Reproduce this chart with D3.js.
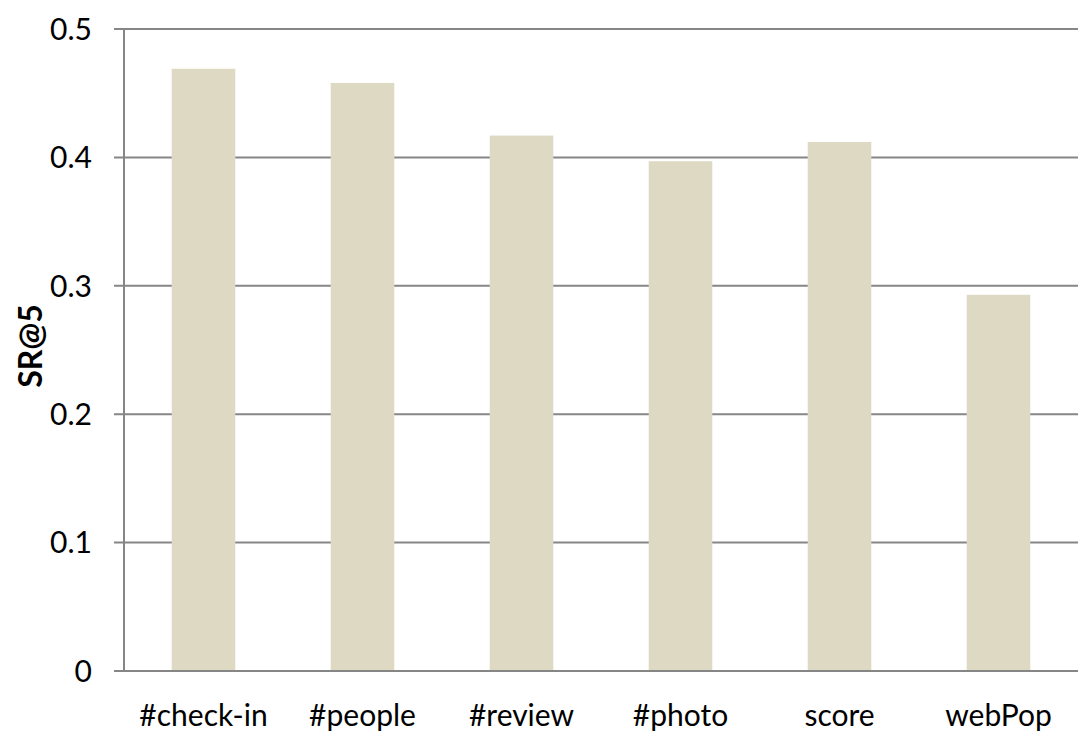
<!DOCTYPE html>
<html>
<head>
<meta charset="utf-8">
<script src="https://cdn.jsdelivr.net/npm/d3@7"></script>
<style>
  html, body { margin: 0; padding: 0; background: #fff; }
  svg { display: block; }
  text { font-family: Lato, "Open Sans", sans-serif; fill: #000; }
</style>
</head>
<body>
<svg id="chart" width="1083" height="744"></svg>
<script>
// SR@5 per ranking feature
const categories = ["#check-in", "#people", "#review", "#photo", "score", "webPop"];
const values = [0.469, 0.458, 0.417, 0.397, 0.412, 0.293];
const yTicks = [0, 0.1, 0.2, 0.3, 0.4, 0.5];
const yTickLabels = ["0", "0.1", "0.2", "0.3", "0.4", "0.5"];
const yTitle = "SR@5";

const svg = d3.select("#chart");
const margin = { left: 124, right: 5, top: 29, bottom: 73 };
const W = 1083, H = 744;

const x = d3.scaleBand()
  .domain(categories)
  .range([margin.left, W - margin.right])
  .paddingInner(0.6)
  .paddingOuter(0.3);

const y = d3.scaleLinear()
  .domain([0, 0.5])
  .range([H - margin.bottom, margin.top]);

const gridColor = "#868686";

// horizontal gridlines with short ticks left of the axis
svg.append("g")
  .selectAll("line")
  .data(yTicks)
  .join("line")
  .attr("x1", margin.left - 10)
  .attr("x2", W - margin.right)
  .attr("y1", d => y(d))
  .attr("y2", d => y(d))
  .attr("stroke", gridColor)
  .attr("stroke-width", 2);

// bars
svg.append("g")
  .selectAll("rect")
  .data(values)
  .join("rect")
  .attr("x", (d, i) => x(categories[i]))
  .attr("width", x.bandwidth())
  .attr("y", d => y(d))
  .attr("height", d => y(0) - y(d))
  .attr("fill", "#DDD9C3");

// baseline redrawn above bars
svg.append("line")
  .attr("x1", margin.left - 10)
  .attr("x2", W - margin.right)
  .attr("y1", y(0))
  .attr("y2", y(0))
  .attr("stroke", gridColor)
  .attr("stroke-width", 2);

// vertical axis line
svg.append("line")
  .attr("x1", margin.left)
  .attr("x2", margin.left)
  .attr("y1", y(0.5))
  .attr("y2", y(0))
  .attr("stroke", gridColor)
  .attr("stroke-width", 2);

// y tick labels
svg.append("g")
  .selectAll("text")
  .data(yTicks)
  .join("text")
  .attr("x", 92)
  .attr("y", d => y(d))
  .attr("dy", "0.36em")
  .attr("text-anchor", "end")
  .attr("font-size", 30)
  .text((d, i) => yTickLabels[i]);

// x category labels
svg.append("g")
  .selectAll("text")
  .data(categories)
  .join("text")
  .attr("x", d => x(d) + x.bandwidth() / 2)
  .attr("y", 726)
  .attr("text-anchor", "middle")
  .attr("font-size", 30)
  .text(d => d);

// y axis title
svg.append("text")
  .attr("transform", `translate(42, ${(y(0) + y(0.5)) / 2 - 4}) rotate(-90)`)
  .attr("text-anchor", "middle")
  .attr("font-size", 32)
  .attr("font-weight", "bold")
  .text(yTitle);
</script>
</body>
</html>
